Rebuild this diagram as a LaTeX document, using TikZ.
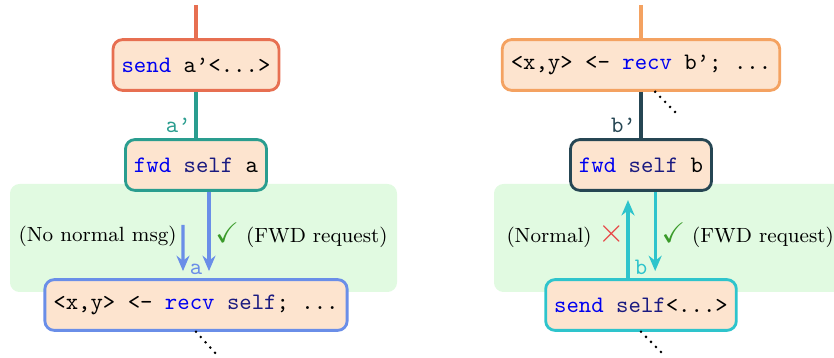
\documentclass[tikz,border=0pt]{standalone}
\usepackage{amssymb}
\usetikzlibrary{arrows.meta}

\definecolor{burnt}{HTML}{E76F51}
\definecolor{sandy}{HTML}{F4A261}
\definecolor{persian}{HTML}{2A9D8F}
\definecolor{charcoal}{HTML}{264653}
\definecolor{cornflower}{HTML}{6A8EE8}
\definecolor{skycyan}{HTML}{2EC4CC}
\definecolor{peach}{HTML}{FDE4CF}
\definecolor{mint}{HTML}{E1FAE1}
\definecolor{kwblue}{HTML}{0000F0}
\definecolor{selfnavy}{HTML}{1A1A80}
\definecolor{okgreen}{HTML}{3A9A2A}
\definecolor{nored}{HTML}{E84545}

\newcommand{\kw}[1]{\textcolor{kwblue}{#1}}
\newcommand{\slf}{\textcolor{selfnavy}{self}}
\newcommand{\yes}{\textcolor{okgreen}{\large$\checkmark$}}
\newcommand{\nope}{\textcolor{nored}{\Large$\times$}}

\tikzset{
  proc/.style={draw, line width=1.2pt, fill=peach, rounded corners=4pt,
    minimum height=21.5pt, inner xsep=3.6pt, font=\ttfamily},
  link/.style={line width=1.4pt},
  msg/.style={line width=1.4pt, -{Stealth[length=6.5pt,width=5.5pt]}, shorten >=3pt},
  cont/.style={line width=1.2pt, dash pattern=on 0pt off 3pt, line cap=round},
  note/.style={font=\fontsize{8.7}{10}\selectfont, inner sep=2pt, text=black},
  chan/.style={font=\ttfamily, inner sep=1.5pt},
}

\begin{document}
\begin{tikzpicture}[x=0.4233pt,y=-0.4233pt]
  \useasboundingbox (0,0) rectangle (834,358);
  \clip (0,0) rectangle (834,358);
  % forwarding zones
  \fill[mint, rounded corners=4pt] (10,184) rectangle (397,292);
  \fill[mint, rounded corners=4pt] (494,184) rectangle (860,292);

  % left: a forwards
  \node[proc, draw=burnt] (sendA) at (196,65) {\kw{send} a’<...>};
  \node[proc, draw=persian] (fwdA) at (196,165) {\kw{fwd} \slf{} a};
  \node[proc, draw=cornflower, label={[chan, text=cornflower]above:a}] (recvA) at (196,305)
    {<x,y> <- \kw{recv} \slf; ...};
  \coordinate (topA) at (196,5);
  \coordinate (noA) at (183,225);
  \coordinate (endA) at (218,356);

  \draw[link, burnt] (topA) -- (sendA);
  \draw[link, persian] (sendA) -- (fwdA) node[pos=1, above left, chan, text=persian] {a’};
  \draw[msg, cornflower] (noA) -- ([xshift=-5.5pt]recvA.north)
    node[pos=0.22, left, note] {(No normal msg)};
  \draw[msg, cornflower] ([xshift=5.5pt]fwdA.south) -- ([xshift=5.5pt]recvA.north)
    node[midway, right, note] {\yes\ (FWD request)};
  \draw[cont] (recvA.south) -- (endA);

  % right: b forwards
  \node[proc, draw=sandy] (recvB) at (641,65) {<x,y> <- \kw{recv} b’; ...};
  \node[proc, draw=charcoal] (fwdB) at (641,165) {\kw{fwd} \slf{} b};
  \node[proc, draw=skycyan, label={[chan, text=skycyan]above:b}] (sendB) at (641,305)
    {\kw{send} \slf<...>};
  \coordinate (topB) at (641,5);
  \coordinate (midB) at (680,117);
  \coordinate (endB) at (665,356);

  \draw[link, sandy] (topB) -- (recvB);
  \draw[cont] ([xshift=6pt]recvB.south) -- (midB);
  \draw[link, charcoal] (recvB) -- (fwdB) node[pos=1, above left, chan, text=charcoal] {b’};
  \draw[msg, skycyan, shorten >=3.5pt] ([xshift=-5.5pt]sendB.north) -- ([xshift=-5.5pt]fwdB.south)
    node[midway, left, note, xshift=1.5pt] {(Normal) \nope};
  \draw[msg, skycyan] ([xshift=6pt]fwdB.south) -- ([xshift=6pt]sendB.north)
    node[midway, right, note] {\yes\ (FWD request)};
  \draw[cont] (sendB.south) -- (endB);
\end{tikzpicture}
\end{document}
